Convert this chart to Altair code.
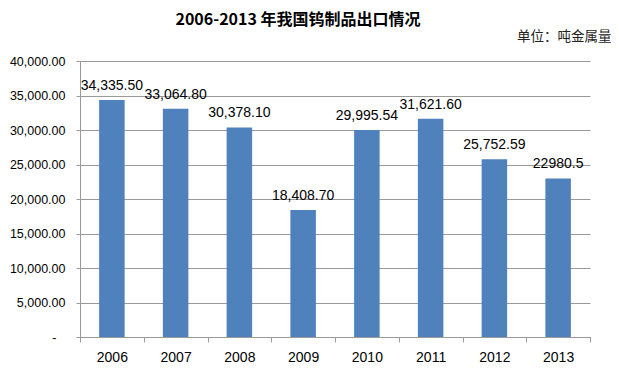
import altair as alt
import pandas as pd

years = ["2006", "2007", "2008", "2009", "2010", "2011", "2012", "2013"]
values = [34335.50, 33064.80, 30378.10, 18408.70, 29995.54, 31621.60, 25752.59, 22980.5]
labels = ["34,335.50", "33,064.80", "30,378.10", "18,408.70", "29,995.54",
          "31,621.60", "25,752.59", "22980.5"]
y_ticks = [0, 5000, 10000, 15000, 20000, 25000, 30000, 35000, 40000]

df = pd.DataFrame({"year": years, "value": values, "label": labels})

LATIN = "Liberation Sans"
CJK = "Noto Sans CJK SC"
GRAY = "#9a9a9a"

x = alt.X(
    "year:N",
    sort=years,
    scale=alt.Scale(paddingInner=0, paddingOuter=0),
    axis=alt.Axis(
        title=None, labelAngle=0, tickBand="extent", tickSize=5,
        tickColor=GRAY, domainColor=GRAY, labelFont=LATIN, labelFontSize=14,
        labelColor="#000", labelPadding=8, grid=False,
    ),
)
y = alt.Y(
    "value:Q",
    scale=alt.Scale(domain=[0, 40000], nice=False),
    axis=alt.Axis(
        title="单位：吨金属量", titleAngle=0, titleX=531, titleY=-25,
        titleAlign="right", titleBaseline="middle", titleFont=CJK,
        titleFontSize=13.5, titleFontWeight="normal", titleColor="#222",
        values=y_ticks,
        labelExpr="datum.value == 0 ? '-' : format(datum.value, ',.2f')",
        tickSize=4, tickColor=GRAY, domainColor=GRAY, gridColor=GRAY,
        labelPadding={"condition": {"test": "datum.value == 0", "value": 20}, "value": 11},
        labelFont=LATIN, labelFontSize=12.5, labelColor="#000",
    ),
)

bars = alt.Chart(df).mark_bar(color="#4F81BD", width=alt.RelativeBandSize(0.4)).encode(x=x, y=y)
text = alt.Chart(df).mark_text(
    baseline="bottom", dy=-7, fontSize=14, font=LATIN, color="#000"
).encode(x=x, y=y, text="label:N")

chart = alt.layer(bars, text).properties(
    width=510,
    height=276,
    autosize=alt.AutoSizeParams(type="none"),
    padding={"left": 72, "top": 53, "right": 21, "bottom": 26},
    title=alt.TitleParams(
        text="2006-2013 年我国钨制品出口情况", anchor="middle", dx=-37,
        fontSize=16, font=CJK, fontWeight="bold", color="#000",
        baseline="middle", offset=-7,
    ),
).configure_view(stroke=None)

chart.save("out.html", embed_options={"renderer": "svg", "actions": False})
